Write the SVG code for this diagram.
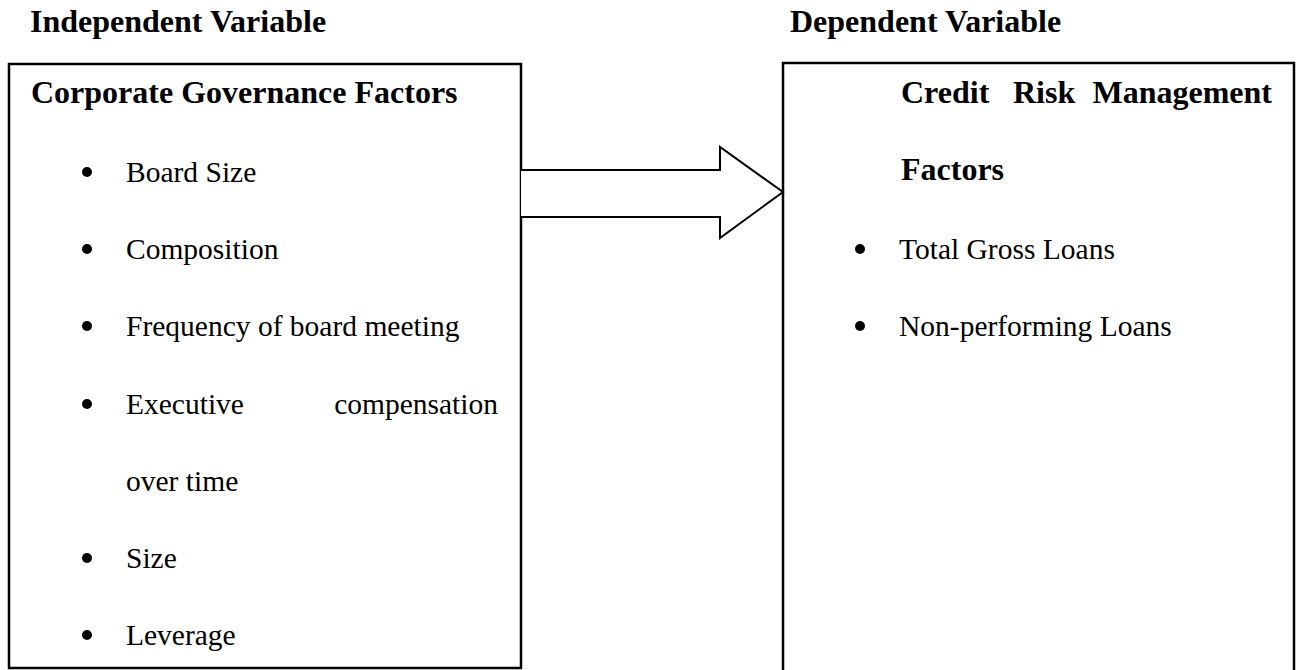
<svg xmlns="http://www.w3.org/2000/svg" width="1303" height="670" viewBox="0 0 1303 670">
<style>
.t{font-family:"Liberation Serif","Times New Roman",Times,serif;font-size:29.5px;fill:#000}
.b{font-family:"Liberation Serif","Times New Roman",Times,serif;font-size:32px;font-weight:bold;fill:#000}
.box{fill:#fff;stroke:#000;stroke-width:2.5}
.dot{fill:#000}
</style>
<rect width="1303" height="670" fill="#fff"/>
<g id="labels">
<text class="b" x="30" y="32">Independent Variable</text>
<text class="b" x="790" y="32">Dependent Variable</text>
</g>
<g id="independent">
<rect class="box" x="9" y="64" width="512" height="604"/>
<text class="b" x="31" y="103">Corporate Governance Factors</text>
<circle class="dot" cx="87" cy="172" r="5"/><text class="t" x="126" y="182">Board Size</text>
<circle class="dot" cx="87" cy="249" r="5"/><text class="t" x="126" y="259">Composition</text>
<circle class="dot" cx="87" cy="326" r="5"/><text class="t" x="126" y="336">Frequency of board meeting</text>
<circle class="dot" cx="87" cy="404" r="5"/><text class="t" x="126" y="414">Executive</text><text class="t" x="498" y="414" text-anchor="end">compensation</text>
<text class="t" x="126" y="491">over time</text>
<circle class="dot" cx="87" cy="558" r="5"/><text class="t" x="126" y="568">Size</text>
<circle class="dot" cx="87" cy="635" r="5"/><text class="t" x="126" y="645">Leverage</text>
</g>
<g id="dependent">
<rect class="box" x="783" y="63" width="511" height="620"/>
<text class="b" x="901" y="103">Credit</text>
<text class="b" x="1013" y="103">Risk</text>
<text class="b" x="1272" y="103" text-anchor="end">Management</text>
<text class="b" x="901" y="180">Factors</text>
<circle class="dot" cx="860" cy="249" r="5"/><text class="t" x="899" y="259">Total Gross Loans</text>
<circle class="dot" cx="860" cy="326" r="5"/><text class="t" x="899" y="336">Non-performing Loans</text>
</g>
<g id="connectors">
<path d="M521,170 H720 V147 L783,192 L720,238 V217 H521" fill="#fff" stroke="#000" stroke-width="2"/>
</g>
</svg>
